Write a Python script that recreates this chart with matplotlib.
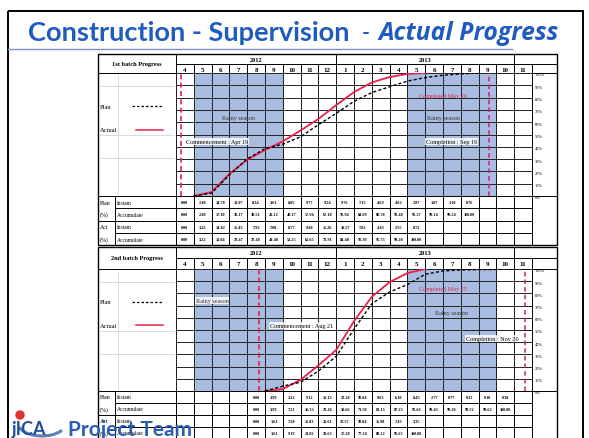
import numpy as np
import matplotlib
matplotlib.use("Agg")
import matplotlib.pyplot as plt
from matplotlib.patches import Rectangle, Arc, Circle

# ---------------- data ----------------
months_2012 = ["4", "5", "6", "7", "8", "9", "10", "11", "12"]
months_2013 = ["1", "2", "3", "4", "5", "6", "7", "8", "9", "10", "11"]
pct_labels = ["100%", "90%", "80%", "70%", "60%", "50%", "40%", "30%", "20%", "10%", "0%"]

# 1st batch (columns from Apr 2012)
b1_plan_instant = [0.00, 2.40, 14.70, 13.07, 8.34, 3.61, 6.05, 9.77, 9.24, 9.76,
                   7.15, 4.69, 4.62, 2.87, 1.87, 1.10, 0.76]
b1_plan_accum = [0.00, 2.40, 17.10, 30.17, 38.51, 42.12, 48.17, 57.94, 67.18, 76.94,
                 84.09, 88.78, 93.40, 96.27, 98.14, 99.24, 100.00]
b1_act_instant = [0.00, 3.22, 14.82, 11.43, 7.93, 7.08, 8.77, 9.40, 11.26, 10.57,
                  7.82, 4.43, 2.55, 0.72]
b1_act_accum = [0.00, 3.22, 18.04, 29.47, 37.40, 44.48, 53.25, 62.65, 73.91, 84.48,
                92.30, 96.73, 99.28, 100.00]
b1_start_col = 0
b1_commence = 0.3      # Apr 19, 2012 (month columns)
b1_completion = 17.6   # Sep 19, 2013

# 2nd batch (columns from Aug 2012)
b2_plan_instant = [0.00, 3.99, 3.22, 9.12, 12.13, 22.20, 20.84, 9.63, 6.10, 8.43,
                   2.77, 0.77, 0.32, 0.10, 0.38]
b2_plan_accum = [0.00, 3.99, 7.21, 16.33, 28.46, 50.66, 71.50, 81.13, 87.23, 95.66,
                 98.43, 99.20, 99.52, 99.62, 100.00]
b2_act_instant = [0.00, 1.61, 7.58, 11.83, 12.61, 23.57, 20.04, 11.98, 7.43, 3.35]
b2_act_accum = [0.00, 1.61, 9.19, 21.02, 33.63, 57.20, 77.24, 89.22, 96.65, 100.00]
b2_start_col = 4
b2_commence = 4.68     # Aug 21, 2012
b2_completion = 19.6   # Nov 20, 2013

rainy_spans = [(1, 6), (13, 18)]

# ---------------- layout (pixels) ----------------
W, H = 589, 439
TX0, LBL_X, HDR_X, PCT_R = 98, 115, 176, 557
NCOL = len(months_2012) + len(months_2013)
COLW = 17.8
PCT_L = HDR_X + NCOL * COLW

BLUE = "#1F5CC0"
RED = "#E8204A"
SHADE = "#A9BDE2"
SERIF = "Liberation Serif"

fig = plt.figure(figsize=(W / 100, H / 100), dpi=100)
page = fig.add_axes([0, 0, 1, 1])
page.set_xlim(0, W)
page.set_ylim(H, 0)
page.axis("off")

# slide frame + title
page.add_patch(Rectangle((8, 12), 575, 440, fill=False, lw=1.4, ec="black"))
page.plot([8, 512], [50, 50], color="#7f93b8", lw=1)


def fit_text(x, y, s, x_right, **kw):
    # scale font so the text spans x .. x_right pixels
    t = page.text(x, y, s, ha="left", va="center", **kw)
    fig.canvas.draw()
    w = t.get_window_extent().width
    t.set_fontsize(t.get_fontsize() * (x_right - x) / w)
    return t


fit_text(28, 33, "Construction - Supervision", 352, color=BLUE, fontsize=20,
         fontweight="bold", family="Lato")
fit_text(362, 33, "-", 370, color=BLUE, fontsize=20, fontweight="bold", family="Lato")
fit_text(378, 33, "Actual Progress", 558, color=BLUE, fontsize=20, fontweight="bold",
         style="italic", family="Open Sans")


def col_x(i):
    return HDR_X + i * COLW


def draw_table(top, yr_bot, mo_bot, ch_bot, rh, title, plan_i, plan_a, act_i, act_a,
               start, commence, completion, notes):
    lw = 0.7
    bot = ch_bot + 4 * rh
    # outer box + header
    page.add_patch(Rectangle((TX0, top), PCT_R - TX0, bot - top, fill=False, lw=1.0, ec="black"))
    page.text((TX0 + HDR_X) / 2, (top + mo_bot) / 2, title, fontsize=4.6, fontweight="bold",
              family=SERIF, ha="center", va="center")
    page.plot([HDR_X, HDR_X], [top, bot], color="black", lw=lw)
    page.plot([HDR_X, PCT_R], [yr_bot, yr_bot], color="black", lw=lw)
    page.plot([TX0, PCT_R], [mo_bot, mo_bot], color="black", lw=lw)
    page.plot([TX0, PCT_R], [ch_bot, ch_bot], color="black", lw=lw)
    n12 = len(months_2012)
    for xv in [col_x(n12), col_x(NCOL - 1)]:
        page.plot([xv, xv], [top, yr_bot], color="black", lw=lw)
    page.text((col_x(0) + col_x(n12)) / 2, (top + yr_bot) / 2 + 0.5, "2012", fontsize=4.6,
              fontweight="bold", family=SERIF, ha="center", va="center")
    page.text((col_x(n12) + col_x(NCOL - 1)) / 2, (top + yr_bot) / 2 + 0.5, "2013", fontsize=4.6,
              fontweight="bold", family=SERIF, ha="center", va="center")
    for i, m in enumerate(months_2012 + months_2013):
        page.plot([col_x(i), col_x(i)], [yr_bot, bot], color="black", lw=lw)
        page.text(col_x(i) + COLW / 2, (yr_bot + mo_bot) / 2 + 0.5, m, fontsize=5,
                  fontweight="bold", family=SERIF, ha="center", va="center")
    page.plot([PCT_L, PCT_L], [yr_bot, bot], color="black", lw=lw)

    # percent labels
    for k, lab in enumerate(pct_labels):
        yy = mo_bot + k * (ch_bot - mo_bot) / 10
        page.text(PCT_L + 3, yy + 1.5, lab, fontsize=3.2, family=SERIF, ha="left", va="center")

    # faint legend box lines
    for yy in [mo_bot + 13, mo_bot + 62, mo_bot + 85]:
        page.plot([TX0 + 2, HDR_X - 2], [yy, yy], color="#d4d4d4", lw=0.6)
    page.plot([118, 118], [mo_bot + 2, ch_bot - 2], color="#d4d4d4", lw=0.6)
    ly_plan = mo_bot + 0.27 * (ch_bot - mo_bot)
    ly_act = mo_bot + 0.46 * (ch_bot - mo_bot)
    page.text(100, ly_plan, "Plan", fontsize=4.6, family=SERIF, va="center")
    page.plot([132, 163], [ly_plan, ly_plan], color="black", lw=0.9, ls=(0, (2, 1.6)))
    page.text(100, ly_act, "Actual", fontsize=4.6, family=SERIF, va="center")
    page.plot([136, 163], [ly_act, ly_act], color=RED, lw=1.1)

    # data rows
    row_names = [("Plan", "Instant"), ("(%)", "Accumulate"), ("Act", "Instant"), ("(%)", "Accumulate")]
    rows = [plan_i, plan_a, act_i, act_a]
    page.plot([LBL_X, LBL_X], [ch_bot, bot], color="black", lw=lw)
    for r, (name, sub) in enumerate(row_names):
        y0 = ch_bot + r * rh
        if r > 0:
            x_start = LBL_X if r % 2 == 1 else TX0
            page.plot([x_start, PCT_L], [y0, y0], color="black", lw=lw)
        page.text(TX0 + 2, y0 + rh / 2, name, fontsize=4.2, family=SERIF, va="center")
        page.text(LBL_X + 2, y0 + rh / 2, sub, fontsize=4.0, family=SERIF, va="center")
        for j, v in enumerate(rows[r]):
            page.text(col_x(start + j) + COLW / 2, y0 + rh / 2, f"{v:.2f}", fontsize=3.1,
                      family=SERIF, fontweight="bold", ha="center", va="center")

    # chart area
    cax = fig.add_axes([HDR_X / W, 1 - ch_bot / H, (PCT_L - HDR_X) / W, (ch_bot - mo_bot) / H])
    cax.set_xlim(0, NCOL)
    cax.set_ylim(0, 100)
    cax.axis("off")
    for a, b in rainy_spans:
        cax.axvspan(a, b, color=SHADE, zorder=0, lw=0)
    cax.vlines(np.arange(NCOL + 1), 0, 100, color="#222222", lw=0.7, zorder=1)
    cax.hlines(np.arange(0, 101, 10), 0, NCOL, color="#222222", lw=0.7, zorder=1)
    cax.axvline(commence, color=RED, lw=1.2, ls=(0, (3, 2)), zorder=3)
    cax.axvline(completion, color="#D02070", lw=1.1, ls=(0, (3, 2)), zorder=3)
    xp = start + 1 + np.arange(len(plan_a))
    xa = start + 1 + np.arange(len(act_a))
    cax.plot(xp, plan_a, color="black", lw=1.0, ls=(0, (2.2, 1.6)), zorder=5)
    cax.plot(xa, act_a, color=RED, lw=1.3, zorder=4)
    box = dict(boxstyle="square,pad=0.15", fc="white", ec="none", alpha=0.85)
    for (x, y, s, c, ha, bx) in notes:
        cax.text(x, y, s, fontsize=4.4, family=SERIF, color=c, ha=ha, va="center",
                 bbox=box if bx else None, zorder=6)


draw_table(55, 65, 74, 197, 12.3, "1st batch Progress",
           b1_plan_instant, b1_plan_accum, b1_act_instant, b1_act_accum,
           b1_start_col, b1_commence, b1_completion,
           [(3.5, 64, "Rainy season", "#333333", "center", False),
            (0.55, 44, "Commencement : Apr 19", "black", "left", True),
            (15.0, 82, "Completed May 26", RED, "center", False),
            (15.0, 64, "Rainy season", "#333333", "center", False),
            (15.5, 44, "Completion : Sep 19", "black", "center", True)])

draw_table(248, 259, 270, 392, 12.0, "2nd batch Progress",
           b2_plan_instant, b2_plan_accum, b2_act_instant, b2_act_accum,
           b2_start_col, b2_commence, b2_completion,
           [(1.1, 74, "Rainy season", "#333333", "left", True),
            (5.3, 54, "Commencement : Aug 21", "black", "left", True),
            (15.0, 84, "Completed May 25", RED, "center", False),
            (15.5, 64, "Rainy season", "#333333", "center", False),
            (16.3, 43, "Completion : Nov 20", "black", "left", True)])

# JICA logo (drawn over the lower table, as on the slide)
page.add_patch(Arc((42, 424), 48, 26, theta1=20, theta2=170, color="#5C7FB8", lw=2.2, zorder=10))
page.add_patch(Circle((20, 416), 4, color="#E03030", zorder=11))
page.text(12, 430, "jICA", color="#1F4E9C", fontsize=13, fontweight="bold", family="Lato",
          va="center", ha="left", zorder=11)
page.text(68, 430, "Project Team", color="#2A5DB5", fontsize=15, fontweight="bold",
          family="Lato", va="center", ha="left", zorder=11)

fig.savefig("out.png", dpi=100)
